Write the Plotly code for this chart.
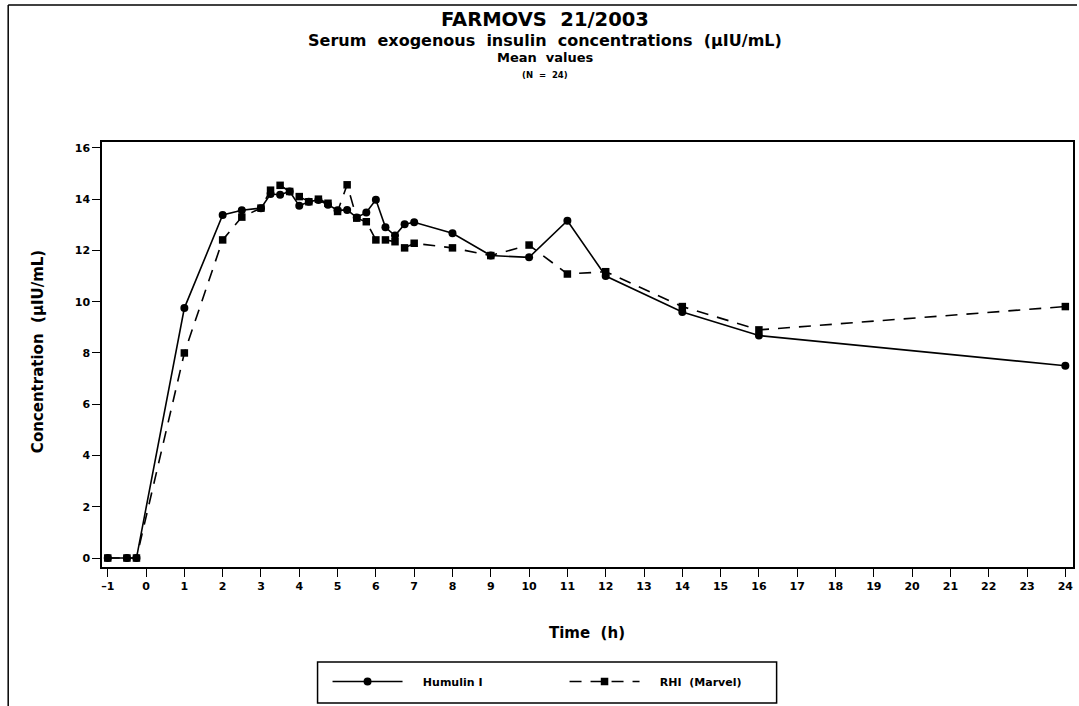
import plotly.graph_objects as go

# ---- data ----
time_h = [-1, -0.5, -0.25, 1, 2, 2.5, 3, 3.25, 3.5, 3.75, 4, 4.25, 4.5, 4.75, 5,
          5.25, 5.5, 5.75, 6, 6.25, 6.5, 6.75, 7, 8, 9, 10, 11, 12, 14, 16, 24]
humulin = [0, 0, 0, 9.75, 13.38, 13.57, 13.65, 14.2, 14.17, 14.3, 13.74, 13.9, 13.97,
           13.78, 13.57, 13.58, 13.28, 13.48, 13.98, 12.9, 12.58, 13.02, 13.1,
           12.67, 11.8, 11.73, 13.16, 11.0, 9.6, 8.68, 7.5]
rhi = [0, 0, 0, 8.0, 12.41, 13.3, 13.65, 14.35, 14.54, 14.3, 14.1, 13.9, 14.0,
       13.84, 13.52, 14.56, 13.26, 13.12, 12.41, 12.41, 12.34, 12.1, 12.28,
       12.1, 11.8, 12.21, 11.08, 11.17, 9.81, 8.9, 9.81]
x_ticks = list(range(-1, 25))
y_ticks = [0, 2, 4, 6, 8, 10, 12, 14, 16]
series_names = ["Humulin I", "RHI  (Marvel)"]
title_lines = ["FARMOVS  21/2003",
               "Serum  exogenous  insulin  concentrations  (µIU/mL)",
               "Mean  values",
               "(N  =  24)"]
x_title = "Time  (h)"
y_title = "Concentration  (µIU/mL)"

NB = "\u00a0"
FONT = "DejaVu Sans, Liberation Sans, Arial, sans-serif"
W, H = 1079, 706
L, R, T, B = 102, 4, 142, 139
pw, ph = W - L - R, H - T - B


def px(x):
    return (x - L) / pw


def py(y):
    return (H - B - y) / ph


def nb(s):
    return s.replace("  ", NB + NB)


fig = go.Figure()
fig.add_trace(go.Scatter(
    x=time_h, y=humulin, name=NB * 4 + nb(series_names[0]), mode="lines+markers",
    line=dict(color="black", width=1.6),
    marker=dict(symbol="circle", size=8, color="black"),
))
fig.add_trace(go.Scatter(
    x=time_h, y=rhi, name=NB * 4 + nb(series_names[1]), mode="lines+markers",
    line=dict(color="black", width=1.6, dash="12px,9px"),
    marker=dict(symbol="square", size=7.5, color="black"),
))

annotations = []
title_specs = [(title_lines[0], 19.5, 19), (title_lines[1], 16, 40),
               (title_lines[2], 13, 58), (title_lines[3], 8.5, 75)]
for txt, sz, yy in title_specs:
    annotations.append(dict(
        text=nb(txt), xref="paper", yref="paper", x=px(546), y=py(yy),
        xanchor="center", yanchor="middle", showarrow=False,
        font=dict(family=FONT, size=sz, color="black", weight="bold")))
annotations.append(dict(
    text=nb(x_title), xref="paper", yref="paper", x=px(588), y=py(633),
    xanchor="center", yanchor="middle", showarrow=False,
    font=dict(family=FONT, size=15, color="black", weight="bold")))
annotations.append(dict(
    text=nb(y_title), xref="paper", yref="paper", x=px(38), y=py(352),
    xanchor="center", yanchor="middle", showarrow=False, textangle=-90,
    font=dict(family=FONT, size=15, color="black", weight="bold")))

shapes = [
    dict(type="line", xref="paper", yref="paper", x0=px(8), x1=px(8),
         y0=py(5), y1=py(706), line=dict(color="black", width=1.5)),
    dict(type="line", xref="paper", yref="paper", x0=px(8), x1=px(1079),
         y0=py(5), y1=py(5), line=dict(color="black", width=1.5)),
    # legend frame
    dict(type="rect", xref="paper", yref="paper", x0=px(318), x1=px(778),
         y0=py(662), y1=py(703), line=dict(color="black", width=1.5),
         fillcolor="rgba(0,0,0,0)"),
]

fig.update_layout(
    width=W, height=H,
    margin=dict(l=L, r=R, t=T, b=B, pad=0),
    paper_bgcolor="white", plot_bgcolor="white",
    font=dict(family=FONT, color="black"),
    showlegend=True,
    legend=dict(
        orientation="h", x=px(328), xanchor="left", y=py(667), yanchor="top",
        borderwidth=0, bgcolor="rgba(0,0,0,0)",
        font=dict(family=FONT, size=11, color="black", weight="bold"),
        itemwidth=70, entrywidth=152, entrywidthmode="pixels",
        itemclick=False, itemdoubleclick=False,
    ),
    annotations=annotations,
    shapes=shapes,
)
fig.update_xaxes(
    range=[-1.15, 24.2], tickmode="array", tickvals=x_ticks,
    ticktext=[str(v) if v >= 0 else "–1" for v in x_ticks],
    showline=True, mirror=True, linecolor="black", linewidth=1.5,
    ticks="outside", ticklen=8, tickwidth=1, tickcolor="black",
    showgrid=False, zeroline=False,
    tickfont=dict(family=FONT, size=11, color="black", weight="bold"),
)
fig.update_yaxes(
    range=[-0.35, 16.23], tickmode="array", tickvals=y_ticks,
    showline=True, mirror=True, linecolor="black", linewidth=1.5,
    ticks="outside", ticklen=8, tickwidth=1, tickcolor="black",
    showgrid=False, zeroline=False,
    tickfont=dict(family=FONT, size=11, color="black", weight="bold"),
)

fig.write_html("out.html",
               config={"displayModeBar": False},
               post_script="document.body.style.margin='0';"
                           "document.body.style.overflow='hidden';")
